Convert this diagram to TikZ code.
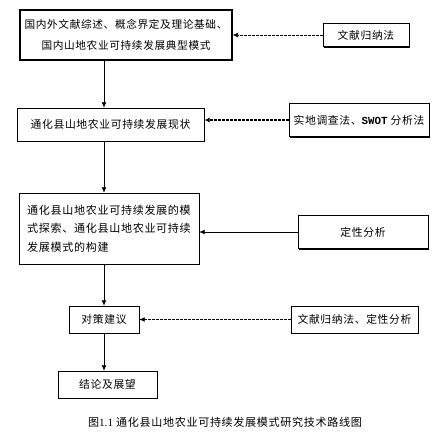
\documentclass[tikz,border=0pt]{standalone}
\usepackage{fontspec}
\setmainfont{Liberation Serif}
\newfontfamily\cjk[LetterSpace=6]{Noto Sans CJK SC}
\usetikzlibrary{positioning, arrows.meta, shadows}

\begin{document}
\begin{tikzpicture}[
    x=0.75pt, y=-0.75pt,
    >=Stealth,
    box/.style={rectangle, draw, fill=white, line width=0.5pt,
                drop shadow={shadow xshift=0.9pt, shadow yshift=-0.9pt,
                             fill=black, opacity=1},
                inner sep=2pt, align=center,
                font=\cjk\fontsize{8.1}{13}\selectfont},
    method/.style={box},
    arrow/.style={-{Latex[length=4pt, width=3.6pt]}, line width=0.5pt},
    dasharrow/.style={arrow, dashed, dash pattern=on 2pt off 1pt}
]
  \useasboundingbox (0,0) rectangle (442,436);

  % main chain
  \node[box, line width=1pt, minimum width=212*0.75pt, minimum height=50*0.75pt,
        font=\cjk\fontsize{8}{16}\selectfont] (lit) at (126,35)
       {国内外文献综述、概念界定及理论基础、\\国内山地农业可持续发展典型模式};
  \node[box, minimum width=187*0.75pt, minimum height=33*0.75pt] (status) at (110.5,124.5)
       {通化县山地农业可持续发展现状};
  \node[box, minimum width=180*0.75pt, minimum height=71*0.75pt, align=left,
        font=\cjk\fontsize{8.3}{13.8}\selectfont] (model) at (109,228.5)
       {通化县山地农业可持续发展的模\\式探索、通化县山地农业可持续\\发展模式的构建};
  \node[box, minimum width=70*0.75pt, minimum height=27*0.75pt] (policy) at (104,319.5)
       {对策建议};
  \node[box, minimum width=99*0.75pt, minimum height=27*0.75pt] (concl) at (107.5,384.5)
       {结论及展望};

  % methods
  \node[method, minimum width=86*0.75pt, minimum height=23*0.75pt] (m1) at (366,35)
       {文献归纳法};
  \node[method, minimum width=140*0.75pt, minimum height=33*0.75pt] (m2) at (359,120)
       {实地调查法、{\fontspec{Liberation Mono}\bfseries SWOT} 分析法};
  \node[method, minimum width=130*0.75pt, minimum height=33*0.75pt] (m3) at (363,232)
       {定性分析};
  \node[method, minimum width=127*0.75pt, minimum height=27*0.75pt] (m4) at (354.5,319.5)
       {文献归纳法、定性分析};

  \node[font=\cjk\fontsize{8.3}{10}\selectfont] (cap) at (225,422)
       {图{\rmfamily 1.1} 通化县山地农业可持续发展模式研究技术路线图};

  \draw[arrow] (lit.south -| policy.north) -- (status.north -| policy.north);
  \draw[arrow] (status.south -| policy.north) -- (model.north -| policy.north);
  \draw[arrow] (model.south -| policy.north) -- (policy.north);
  \draw[arrow] (policy.south) -- (concl.north -| policy.south);

  \draw[dasharrow] (m1.west) -- (m1.west -| lit.east);
  \draw[dasharrow, line width=1pt] (m2.west) -- (m2.west -| status.east);
  \draw[arrow] (m3.west) -- (m3.west -| model.east);
  \draw[dasharrow] (m4.west) -- (policy.east);
\end{tikzpicture}
\end{document}
